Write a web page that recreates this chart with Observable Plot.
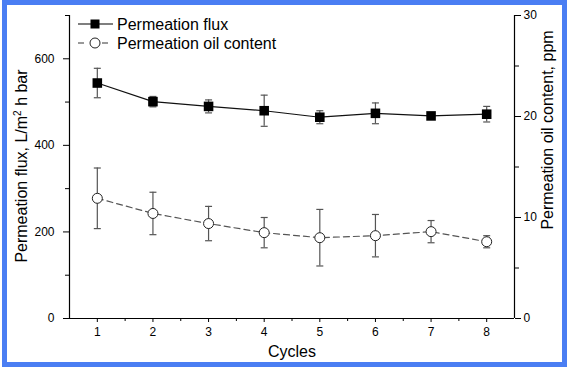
<!DOCTYPE html>
<html><head><meta charset="utf-8">
<script src="https://cdn.jsdelivr.net/npm/d3@7"></script>
<script src="https://cdn.jsdelivr.net/npm/@observablehq/plot@0.6"></script>
<style>
html,body{margin:0;padding:0;background:#fff;}
#wrap{position:relative;width:569px;height:371px;font-family:"Liberation Sans",Arial,sans-serif;overflow:hidden;}
#wrap svg{position:absolute;left:0;top:0;}
#border{position:absolute;left:2px;top:0;width:555px;height:357px;border:5px solid #4a7ef3;}
</style></head><body><div id="wrap"><div id="border"></div></div>
<script>
// ---- data ----
const cycles = [1, 2, 3, 4, 5, 6, 7, 8];
const fluxMean = [544, 501, 490, 480, 465, 474, 468, 472];
const fluxErr = [34, 12, 15, 36, 15, 24, 3, 18];
const oilMean = [11.9, 10.4, 9.4, 8.5, 8.0, 8.2, 8.6, 7.6];
const oilErr = [3.0, 2.1, 1.7, 1.5, 2.8, 2.1, 1.1, 0.6];
const xTicks = [1, 2, 3, 4, 5, 6, 7, 8];
const xMinor = [1.5, 2.5, 3.5, 4.5, 5.5, 6.5, 7.5];
const fluxTicks = [0, 200, 400, 600];
const fluxMinor = [100, 300, 500, 700];
const oilTicks = [0, 10, 20, 30];
const oilMinor = [5, 15, 25];
const xDomain = [0.5, 8.5];
const fluxDomain = [0, 700];
const oilDomain = [0, 30];
const seriesNames = ["Permeation flux", "Permeation oil content"];

const flux = cycles.map((c, i) => ({c, v: fluxMean[i], lo: fluxMean[i] - fluxErr[i], hi: fluxMean[i] + fluxErr[i]}));
const oil = cycles.map((c, i) => ({c, v: oilMean[i], lo: oilMean[i] - oilErr[i], hi: oilMean[i] + oilErr[i]}));

const cap = {draw(ctx) { ctx.moveTo(-3.5, 0); ctx.lineTo(3.5, 0); }};
const errCol = "#555";

const common = {
  width: 569, height: 371,
  marginLeft: 69, marginRight: 55, marginTop: 15, marginBottom: 53,
  style: {fontFamily: '"Liberation Sans", Arial, sans-serif', fontSize: "12px", background: "transparent", color: "#000", overflow: "visible"}
};

const pA = Plot.plot({
  ...common,
  x: {domain: xDomain},
  y: {domain: fluxDomain},
  marks: [
    Plot.ruleX([xDomain[0]], {stroke: "#000", strokeWidth: 1.2}),
    Plot.ruleY([fluxDomain[0]], {stroke: "#000", strokeWidth: 1.2}),
    Plot.axisX(xTicks, {tickSize: 4, tickPadding: 5, label: null, fontSize: 12}),
    Plot.axisX(xMinor, {tickSize: 3, tickFormat: () => "", label: null}),
    Plot.axisY(fluxTicks, {anchor: "left", tickSize: 6, tickPadding: 9, label: null, fontSize: 12}),
    Plot.axisY(fluxMinor, {anchor: "left", tickSize: 4, tickFormat: () => "", label: null}),
    Plot.ruleX(flux, {x: "c", y1: "lo", y2: "hi", stroke: errCol, strokeWidth: 1.2}),
    Plot.dot(flux, {x: "c", y: "lo", symbol: cap, fill: "none", stroke: errCol, strokeWidth: 1.2}),
    Plot.dot(flux, {x: "c", y: "hi", symbol: cap, fill: "none", stroke: errCol, strokeWidth: 1.2}),
    Plot.line(flux, {x: "c", y: "v", stroke: "#111", strokeWidth: 1.2}),
    Plot.dot(flux, {x: "c", y: "v", symbol: "square", r: 5.4, fill: "#000", stroke: "none"})
  ]
});

const pB = Plot.plot({
  ...common,
  x: {domain: xDomain, axis: null},
  y: {domain: oilDomain},
  marks: [
    Plot.ruleX([xDomain[1]], {stroke: "#000", strokeWidth: 1.2}),
    Plot.axisY(oilTicks, {anchor: "right", tickSize: 6, tickPadding: 3, label: null, fontSize: 12}),
    Plot.axisY(oilMinor, {anchor: "right", tickSize: 4, tickFormat: () => "", label: null}),
    Plot.ruleX(oil, {x: "c", y1: "lo", y2: "hi", stroke: errCol, strokeWidth: 1.2}),
    Plot.dot(oil, {x: "c", y: "lo", symbol: cap, fill: "none", stroke: errCol, strokeWidth: 1.2}),
    Plot.dot(oil, {x: "c", y: "hi", symbol: cap, fill: "none", stroke: errCol, strokeWidth: 1.2}),
    Plot.line(oil, {x: "c", y: "v", stroke: "#555", strokeWidth: 1.2, strokeDasharray: "6,4"}),
    Plot.dot(oil, {x: "c", y: "v", symbol: "circle", r: 5, fill: "#fff", stroke: "#222", strokeWidth: 1})
  ]
});

const wrap = document.getElementById("wrap");
wrap.appendChild(pA);
wrap.appendChild(pB);

// titles and legend
const ns = "http://www.w3.org/2000/svg";
const ov = document.createElementNS(ns, "svg");
ov.setAttribute("width", 569); ov.setAttribute("height", 371);
ov.innerHTML = `
<g font-family='"Liberation Sans", Arial, sans-serif' font-size="16" fill="#000">
  <text x="292" y="357" text-anchor="middle">Cycles</text>
  <text transform="translate(27,166) rotate(-90)" text-anchor="middle">Permeation flux, L/m<tspan dy="-6" font-size="10">2</tspan><tspan dy="6"> h bar</tspan></text>
  <text transform="translate(553,130) rotate(-90)" text-anchor="middle">Permeation oil content, ppm</text>
  <line x1="78" x2="113" y1="24" y2="24" stroke="#000" stroke-width="1.2"/>
  <rect x="90.5" y="19.5" width="9" height="9" fill="#000"/>
  <text x="117" y="29.5">${seriesNames[0]}</text>
  <line x1="78" x2="84" y1="43" y2="43" stroke="#555" stroke-width="1.2"/>
  <line x1="102" x2="108" y1="43" y2="43" stroke="#555" stroke-width="1.2"/>
  <circle cx="95" cy="43" r="5" fill="#fff" stroke="#222"/>
  <text x="117" y="48.5">${seriesNames[1]}</text>
</g>`;
wrap.appendChild(ov);
</script>
</body></html>
